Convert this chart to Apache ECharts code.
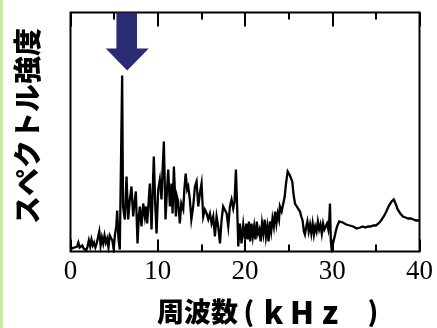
<!DOCTYPE html>
<html>
<head>
<meta charset="utf-8">
<script src="https://cdn.jsdelivr.net/npm/echarts@6/dist/echarts.min.js"></script>
<style>
  html, body { margin: 0; padding: 0; background: #fff; }
  #wrap { position: relative; width: 437px; height: 328px; }
  #edge { position: absolute; left: 0; top: 0; width: 3px; height: 328px; background: #c6e8a4; }
  #chart { position: absolute; left: 0; top: 0; width: 437px; height: 328px; }
</style>
</head>
<body>
<div id="wrap">
  <div id="chart"></div>
  <div id="edge"></div>
</div>
<script>
// Frequency (kHz) and spectral intensity (arbitrary units)
const freq = [
  0, 0.15, 0.3, 0.45, 0.6, 0.75, 0.9, 1.05, 1.2, 1.35, 1.5, 1.65, 1.8, 1.95, 2.1, 2.25, 2.4, 2.55, 2.7, 2.85,
  3.0, 3.15, 3.3, 3.45, 3.6, 3.75, 3.9, 4.05, 4.2, 4.35, 4.5, 4.65, 4.8, 4.95, 5.1, 5.25, 5.35, 5.5, 5.65, 5.8,
  5.92, 6.02, 6.1, 6.23, 6.42, 6.61, 6.8, 6.99, 7.18, 7.33, 7.49, 7.68, 7.83, 7.95, 8.14, 8.33, 8.52, 8.65, 8.79, 8.92,
  9.09, 9.29, 9.4, 9.55, 9.7, 9.86, 10.05, 10.24, 10.43, 10.55, 10.7, 10.89, 11.04, 11.2, 11.39, 11.58, 11.7, 11.85, 12.08, 12.2,
  12.34, 12.53, 12.7, 12.92, 13.05, 13.2, 13.37, 13.5, 13.68, 13.85, 14.06, 14.26, 14.45, 14.64, 14.83, 15.02, 15.21, 15.4, 15.6, 15.79,
  15.98, 16.17, 16.36, 16.55, 16.74, 16.93, 17.13, 17.32, 17.5, 17.7, 17.9, 18.08, 18.27, 18.46, 18.65, 18.8, 18.96, 19.11, 19.23, 19.42,
  19.6, 19.8, 20.0, 20.15, 20.3, 20.45, 20.6, 20.75, 20.9, 21.05, 21.2, 21.35, 21.5, 21.65, 21.8, 21.95, 22.1, 22.25, 22.4, 22.55,
  22.7, 22.85, 23.0, 23.15, 23.3, 23.45, 23.6, 23.75, 23.9, 24.0, 24.2, 24.39, 24.55, 24.7, 24.89, 25.0, 25.15, 25.3, 25.42, 25.55,
  25.73, 25.85, 26.0, 26.15, 26.3, 26.45, 26.6, 26.75, 26.87, 27.0, 27.15, 27.3, 27.45, 27.6, 27.75, 27.9, 28.05, 28.2, 28.35, 28.5,
  28.65, 28.8, 28.95, 29.1, 29.25, 29.4, 29.55, 29.65, 29.74, 29.84, 29.93, 30.05, 30.2, 30.4, 30.55, 30.8, 31.0, 31.2, 31.4, 31.6,
  31.8, 32.0, 32.2, 32.4, 32.6, 32.8, 33.0, 33.2, 33.5, 33.8, 34.1, 34.4, 34.7, 35.0, 35.3, 35.6, 35.9, 36.2, 36.5, 36.8,
  37.05, 37.3, 37.5, 37.8, 38.1, 38.4, 38.7, 39.0, 39.3, 39.6, 40
];
const intensity = [
  6, 3, 2, 4, 3, 5, 9, 4, 2, 6, 3, 2, 1, 5, 11, 5, 12, 6, 9, 4,
  8, 10, 20, 6, 14, 8, 16, 9, 13, 4, 16, 18, 11, 2, 17, 25, 41, 12, 2, 3,
  176, 45, 45, 32, 75, 32, 52, 65, 35, 48, 60, 8, 35, 45, 25, 48, 35, 45, 28, 45,
  68, 22, 55, 95, 50, 18, 62, 72, 52, 80, 110, 32, 58, 82, 45, 68, 38, 85, 35, 55,
  50, 28, 48, 42, 62, 78, 62, 65, 52, 32, 45, 65, 70, 45, 58, 68, 35, 42, 38, 32,
  38, 28, 35, 15, 35, 25, 8, 32, 45, 47, 38, 25, 45, 52, 43, 50, 82, 42, 5, 28,
  8, 27, 12, 28, 12, 30, 10, 28, 15, 25, 12, 30, 18, 22, 10, 28, 18, 32, 15, 25,
  10, 30, 20, 33, 25, 40, 28, 38, 32, 45, 40, 42, 55, 68, 80, 78, 76, 74, 70, 58,
  48, 50, 44, 42, 40, 35, 31, 20, 17, 24, 30, 20, 27, 18, 28, 17, 25, 20, 30, 22,
  27, 18, 28, 22, 24, 28, 22, 30, 48, 10, 2, 4, 12, 20, 25, 30, 31, 29, 30, 27,
  25, 26, 24, 25, 24, 23, 24, 24, 25, 24, 25, 25, 26, 26, 28, 31, 35, 40, 46, 50,
  52, 47, 42, 38, 35, 34, 33, 33, 32, 31, 31
];
const xTicks = [0, 10, 20, 30, 40];

// Arrow annotation pointing at the dominant peak
const arrowAt = [6.5, 210];
const arrowPath = 'path://M10.7,0 L31.3,0 L31.3,36 L43,36 L21.5,58 L0,36 L10.7,36 Z';

const points = freq.map((f, i) => [f, intensity[i]]);

const chart = echarts.init(document.getElementById('chart'), null, { renderer: 'canvas' });

const xBase = {
  type: 'value',
  min: xTicks[0],
  max: xTicks[xTicks.length - 1],
  interval: 10,
  splitLine: { show: false },
  axisLine: { show: false },
  axisTick: { show: true, inside: true, length: 12, lineStyle: { color: '#000', width: 2 } },
  minorTick: { show: true, splitNumber: 2, length: 7, lineStyle: { color: '#000', width: 2 } },
  minorSplitLine: { show: false }
};

const labelFont = 'Noto Sans CJK JP';
const glyph = { fontFamily: labelFont, fontWeight: 900, fontSize: 31, fill: '#000', align: 'center' };

chart.setOption({
  animation: false,
  backgroundColor: '#fff',
  grid: {
    left: 70.5, right: 17.5, top: 12.5, bottom: 76.5,
    show: true, borderColor: '#000', borderWidth: 2, backgroundColor: 'transparent'
  },
  xAxis: [
    Object.assign({}, xBase, {
      position: 'bottom',
      axisLabel: {
        show: true, margin: 7, color: '#000',
        fontFamily: 'Liberation Serif', fontSize: 27
      }
    }),
    Object.assign({}, xBase, {
      position: 'top',
      axisTick: { show: true, inside: true, length: 14, lineStyle: { color: '#000', width: 2 } },
      axisLabel: { show: false }
    })
  ],
  yAxis: {
    type: 'value',
    min: 0,
    max: 239,
    show: true,
    axisLine: { show: false },
    axisTick: { show: false },
    axisLabel: { show: false },
    splitLine: { show: false }
  },
  series: [{
    type: 'line',
    xAxisIndex: 0,
    data: points,
    showSymbol: false,
    symbol: 'none',
    lineStyle: { color: '#000', width: 2.3, join: 'miter' },
    markPoint: {
      symbol: arrowPath,
      symbolSize: [43, 58],
      itemStyle: { color: '#2b2b73' },
      label: { show: false },
      data: [{ coord: arrowAt }]
    }
  }],
  graphic: [
    {
      type: 'text',
      x: 27, y: 126,
      rotation: Math.PI / 2,
      style: {
        text: 'スペクトル強度',
        fontFamily: labelFont,
        fontWeight: 900,
        fontSize: 28,
        fill: '#000',
        align: 'center',
        verticalAlign: 'middle'
      }
    },
    {
      type: 'text',
      x: 157, y: 312,
      style: {
        text: '{a|周波数}{b|(}{k|k}{h|H}{z|z}{s| }{c|)}',
        align: 'left',
        verticalAlign: 'middle',
        rich: {
          a: Object.assign({}, glyph, { fontSize: 27, align: 'left' }),
          b: Object.assign({}, glyph, { fontSize: 27, width: 22 }),
          k: Object.assign({}, glyph, { width: 27 }),
          h: Object.assign({}, glyph, { width: 30 }),
          z: Object.assign({}, glyph, { width: 26 }),
          s: Object.assign({}, glyph, { width: 20 }),
          c: Object.assign({}, glyph, { fontSize: 27, width: 20 })
        }
      }
    }
  ]
});
</script>
</body>
</html>
